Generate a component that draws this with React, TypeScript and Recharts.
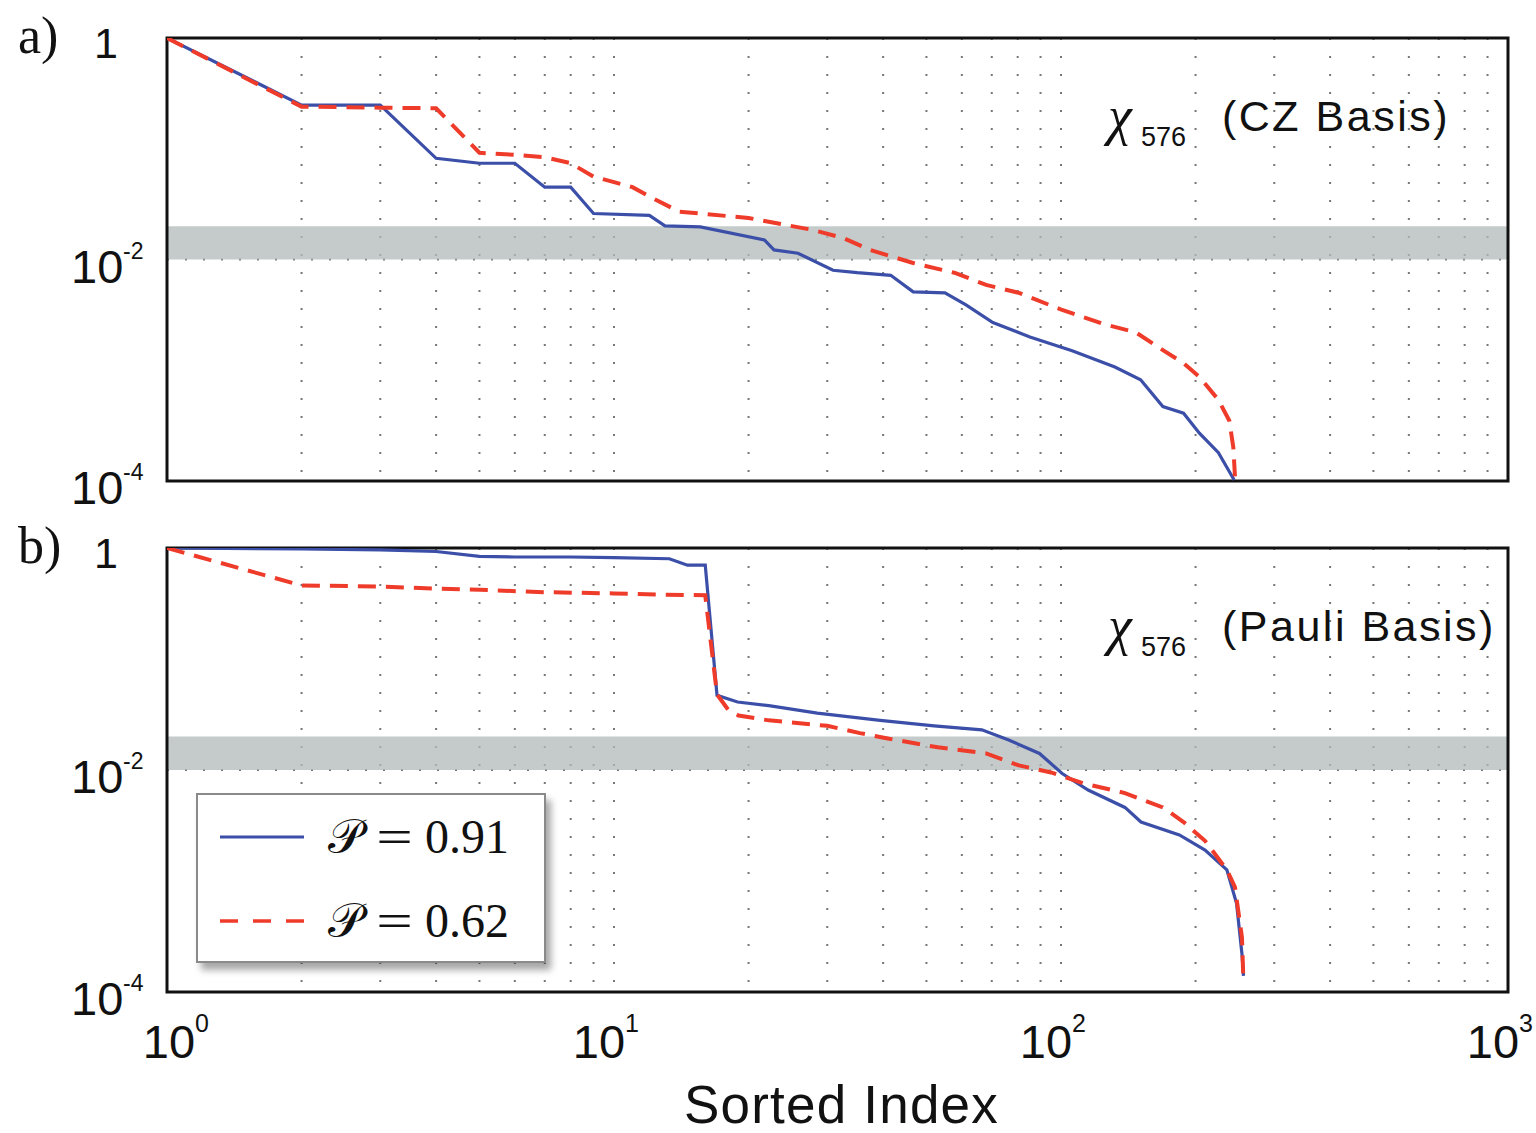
import React from "react";
import {
  CartesianGrid,
  Label,
  Legend,
  Line,
  LineChart,
  ReferenceArea,
  XAxis,
  YAxis,
} from "recharts";

// sorted index ticks (log axis, decades + minor)
const xTicks = [
  1, 2, 3, 4, 5, 6, 7, 8, 9, 10, 20, 30, 40, 50, 60, 70, 80, 90, 100, 200, 300,
  400, 500, 600, 700, 800, 900, 1000,
];
const yTicks = [1e-4, 1e-2, 1];
const bandRange = [0.01, 0.02];

// a) CZ basis, P = 0.91
const czBlueX = [
  1, 2, 3, 4, 5, 6, 7, 8, 9, 12, 13, 15.6, 21.7, 22.8, 25.8, 30.9, 35, 41.6,
  46.7, 55, 61.3, 70.4, 85.2, 105.9, 132, 150.7, 169, 188, 204, 225, 244,
];
const czBlueY = [
  1, 0.248, 0.248, 0.082, 0.074, 0.074, 0.045, 0.045, 0.026, 0.025, 0.0201,
  0.0197, 0.015, 0.0122, 0.0114, 0.008, 0.0076, 0.0072, 0.0051, 0.005, 0.0039,
  0.0027, 0.002, 0.0015, 0.00107, 0.00082, 0.00047, 0.00041, 0.00027, 0.00018,
  0.000102,
];

// a) CZ basis, P = 0.62
const czRedX = [
  1, 2, 3, 4, 5, 6, 7, 8, 9, 10, 11, 12, 14, 15.6, 20, 27.8, 32.6, 37.4, 46.7,
  57.7, 68, 80.5, 100.6, 125, 147, 169, 188, 204, 225, 238, 243, 245,
];
const czRedY = [
  1, 0.24, 0.235, 0.232, 0.092, 0.088, 0.084, 0.074, 0.056, 0.05, 0.045, 0.037,
  0.027, 0.026, 0.0237, 0.0185, 0.0156, 0.0122, 0.0093, 0.0076, 0.0059, 0.005,
  0.0035, 0.0026, 0.0022, 0.00152, 0.00116, 0.00087, 0.00054, 0.00035, 0.0002,
  0.00011,
];

// b) Pauli basis, P = 0.91
const pauliBlueX = [
  1, 2, 3, 4, 5, 6, 8, 10, 13.3, 14.6, 16, 17, 18.9, 22.2, 28.5, 39.4, 52, 66.5,
  76.4, 89.5, 100.6, 115, 139, 151, 184, 210, 235, 247, 254, 256,
];
const pauliBlueY = [
  1, 0.98, 0.96, 0.93, 0.84, 0.83, 0.83, 0.82, 0.8, 0.7, 0.7, 0.047, 0.041,
  0.038, 0.0325, 0.028, 0.025, 0.023, 0.0186, 0.0141, 0.0093, 0.0066, 0.0046,
  0.0034, 0.0026, 0.0019, 0.00126, 0.00063, 0.00022, 0.00014,
];

// b) Pauli basis, P = 0.62
const pauliRedX = [
  1, 2, 3, 4, 5, 7, 10, 13, 16, 17, 18, 19, 22.2, 30, 35.5, 40.7, 53, 68, 80.5,
  95, 112, 139, 169, 188, 210, 235, 245, 254, 256,
];
const pauliRedY = [
  1, 0.46, 0.45, 0.43, 0.42, 0.4, 0.39, 0.38, 0.375, 0.048, 0.035, 0.031, 0.028,
  0.025, 0.0215, 0.0193, 0.016, 0.0141, 0.011, 0.0095, 0.0076, 0.0062, 0.0046,
  0.0034, 0.0023, 0.00126, 0.00088, 0.00031, 0.00012,
];

const BLUE = "#3b4fa8";
const RED = "#ef3b2a";
const SANS = "'Liberation Sans', Arial, sans-serif";
const SERIF = "'Liberation Serif', 'Times New Roman', serif";

const zip = (xs: number[], ys: number[]) => xs.map((x, i) => ({ x, y: ys[i] }));

const isDecade = (v: number) => Math.abs(Math.log10(v) - Math.round(Math.log10(v))) < 1e-9;

function XTick(props: any) {
  const { x, y, payload, show } = props;
  const v = payload.value;
  if (!show || !isDecade(v)) return <g />;
  const exp = Math.round(Math.log10(v));
  // matlab nudges the exponent labels a bit left of the tick, except the first
  const cx = exp === 0 ? x + 2 : x - 15;
  return (
    <g fill="#111" fontFamily={SANS}>
      <text x={cx} y={y + 66} textAnchor="middle" fontSize={47}>
        10
      </text>
      <text x={cx + 26} y={y + 40} textAnchor="start" fontSize={25}>
        {exp}
      </text>
    </g>
  );
}

function YTick(props: any) {
  const { x, y, payload } = props;
  const exp = Math.round(Math.log10(payload.value));
  if (exp === 0) {
    return (
      <text x={x - 49} y={y + 20} textAnchor="end" fontSize={43} fill="#111" fontFamily={SANS}>
        1
      </text>
    );
  }
  return (
    <g fill="#111" fontFamily={SANS}>
      <text x={x - 96} y={y + 23} textAnchor="start" fontSize={47}>
        10
      </text>
      <text x={x - 44} y={y - 1} textAnchor="start" fontSize={23}>
        {"-" + Math.abs(exp)}
      </text>
    </g>
  );
}

function PanelLegend() {
  const row = (dash: string | undefined, color: string, width: number, text: string) => (
    <div style={{ display: "flex", alignItems: "center", height: 84 }}>
      <svg width={84} height={10} style={{ marginLeft: 22, marginRight: 24 }}>
        <line x1={0} y1={5} x2={84} y2={5} stroke={color} strokeWidth={width} strokeDasharray={dash} />
      </svg>
      <span style={{ fontFamily: SERIF, fontSize: 48, color: "#111", whiteSpace: "nowrap" }}>
        <span style={{ fontWeight: 300 }}>𝒫</span>
        <span style={{ display: "inline-block", margin: "0 17px 0 18px", transform: "scaleX(1.35)" }}>=</span>
        {text}
      </span>
    </div>
  );
  return (
    <div
      style={{
        width: 350,
        height: 170,
        boxSizing: "border-box",
        background: "#fff",
        border: "2px solid #8a8a8a",
        boxShadow: "5px 7px 7px rgba(0,0,0,0.35)",
      }}
    >
      {row(undefined, BLUE, 3, "0.91")}
      {row("18 15", RED, 3.5, "0.62")}
    </div>
  );
}

function Panel({
  blue,
  red,
  height,
  marginTop,
  xAxisHeight,
  bottomAxis,
}: {
  blue: { x: number; y: number }[];
  red: { x: number; y: number }[];
  height: number;
  marginTop: number;
  xAxisHeight: number;
  bottomAxis: boolean;
}) {
  return (
    <LineChart width={1536} height={height} margin={{ top: marginTop, right: 28, bottom: 0, left: 0 }}>
      <CartesianGrid stroke="#777" strokeWidth={2} strokeDasharray="2 16" />
      <ReferenceArea y1={bandRange[0]} y2={bandRange[1]} fill="#b2baba" fillOpacity={0.75} stroke="none" />
      <XAxis
        dataKey="x"
        type="number"
        scale="log"
        domain={[1, 1000]}
        ticks={xTicks}
        interval={0}
        allowDataOverflow
        height={xAxisHeight}
        axisLine={false}
        tickLine={false}
        tickSize={0}
        tickMargin={0}
        tick={(p: any) => <XTick {...p} show={bottomAxis} />}
      >
        {bottomAxis && (
          <Label
            content={(p: any) => {
              const vb = p.viewBox;
              return (
                <text
                  x={vb.x + vb.width / 2 + 4}
                  y={vb.y + 131}
                  textAnchor="middle"
                  fontFamily={SANS}
                  fontSize={53}
                  letterSpacing={1.2}
                  fill="#111"
                >
                  Sorted Index
                </text>
              );
            }}
          />
        )}
      </XAxis>
      <YAxis
        type="number"
        scale="log"
        domain={[1e-4, 1]}
        ticks={yTicks}
        interval={0}
        allowDataOverflow
        width={167}
        axisLine={false}
        tickLine={false}
        tickSize={0}
        tickMargin={0}
        tick={(p: any) => <YTick {...p} />}
      />
      <Line data={blue} dataKey="y" type="linear" stroke={BLUE} strokeWidth={3.2} dot={false} activeDot={false} isAnimationActive={false} />
      <Line
        data={red}
        dataKey="y"
        type="linear"
        stroke={RED}
        strokeWidth={4}
        strokeDasharray="18 10"
        dot={false}
        activeDot={false}
        isAnimationActive={false}
      />
      <ReferenceArea x1={1} x2={1000} y1={1e-4} y2={1} fill="none" stroke="#111" strokeWidth={3} />
      {bottomAxis && (
        <Legend
          layout="horizontal"
          verticalAlign="middle"
          align="center"
          wrapperStyle={{ left: 196, top: 273, width: 350 }}
          content={() => <PanelLegend />}
        />
      )}
    </LineChart>
  );
}

function Note({ top, text }: { top: number; text: string }) {
  return (
    <div style={{ position: "absolute", left: 0, top, width: 1536, height: 70, pointerEvents: "none" }}>
      <span style={{ position: "absolute", left: 1108, top: 0, fontFamily: SERIF, fontStyle: "italic", fontSize: 54, lineHeight: "52px", color: "#111" }}>
        χ
      </span>
      <span style={{ position: "absolute", left: 1141, top: 34, fontFamily: SANS, fontSize: 27, lineHeight: "27px", color: "#111" }}>
        576
      </span>
      <span
        style={{
          position: "absolute",
          left: 1222,
          top: 0,
          fontFamily: SANS,
          fontSize: 43,
          lineHeight: "52px",
          letterSpacing: 2.5,
          color: "#111",
          whiteSpace: "nowrap",
        }}
      >
        {text}
      </span>
    </div>
  );
}

export default function App() {
  const panelLabel = (top: number, text: string) => (
    <div style={{ position: "absolute", left: 18, top, fontFamily: SERIF, fontSize: 52, lineHeight: "52px", color: "#111" }}>
      {text}
    </div>
  );
  return (
    <div style={{ position: "absolute", left: 0, top: 0, width: 1536, height: 1133, background: "#fff" }}>
      <div style={{ position: "absolute", left: 0, top: 0 }}>
        <Panel blue={zip(czBlueX, czBlueY)} red={zip(czRedX, czRedY)} height={522} marginTop={38} xAxisHeight={41} bottomAxis={false} />
      </div>
      <div style={{ position: "absolute", left: 0, top: 520 }}>
        <Panel
          blue={zip(pauliBlueX, pauliBlueY)}
          red={zip(pauliRedX, pauliRedY)}
          height={613}
          marginTop={28}
          xAxisHeight={141}
          bottomAxis
        />
      </div>
      {panelLabel(10, "a)")}
      {panelLabel(520, "b)")}
      <Note top={90} text="(CZ Basis)" />
      <Note top={600} text="(Pauli Basis)" />
    </div>
  );
}
